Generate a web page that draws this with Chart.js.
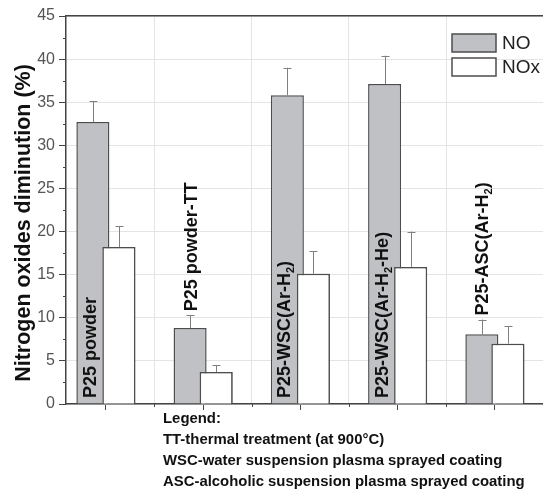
<!DOCTYPE html>
<html>
<head>
<meta charset="utf-8">
<script src="https://cdn.jsdelivr.net/npm/chart.js@4"></script>
<style>
  html, body { margin: 0; padding: 0; background: #fff; }
  #wrap { width: 543px; height: 493px; }
</style>
</head>
<body>
<div id="wrap"><canvas id="noxChart" width="543" height="493"></canvas></div>
<script>
const categories = ["P25 powder", "P25 powder-TT", "P25-WSC(Ar-H₂)", "P25-WSC(Ar-H₂-He)", "P25-ASC(Ar-H₂)"];
const seriesNames = ["NO", "NOx"];
const noValues = [32.7, 8.8, 35.8, 37.1, 8.1];
const noErrors = [2.4, 1.5, 3.2, 3.3, 1.7];
const noxValues = [18.2, 3.7, 15.1, 15.9, 7.0];
const noxErrors = [2.4, 0.8, 2.6, 4.1, 2.0];
const yTickValues = [0, 5, 10, 15, 20, 25, 30, 35, 40, 45];
const yTitle = "Nitrogen oxides diminution (%)";
const legendNotes = [
  "Legend:",
  "TT-thermal treatment (at 900°C)",
  "WSC-water suspension plasma sprayed coating",
  "ASC-alcoholic suspension plasma sprayed coating"
];

const FONT = "'Liberation Sans', Arial, Helvetica, sans-serif";
const AXIS = "#444";
const GRID = "#e4e4e4";
const GRAY_FILL = "#c0c1c4";
const BAR_EDGE = "#4d4d4d";

Chart.defaults.font.family = FONT;

// draws a label that may hold a subscript 2 (₂), rotated to read upwards
function drawRotatedLabel(ctx, text, x, y) {
  ctx.save();
  ctx.translate(x, y);
  ctx.rotate(-Math.PI / 2);
  ctx.fillStyle = "#111";
  ctx.textBaseline = "alphabetic";
  ctx.textAlign = "left";
  let pos = 0;
  const parts = text.split("₂");
  parts.forEach((p, i) => {
    ctx.font = "bold 18px " + FONT;
    ctx.fillText(p, pos, 0);
    pos += ctx.measureText(p).width;
    if (i < parts.length - 1) {
      ctx.font = "bold 11px " + FONT;
      ctx.fillText("2", pos, 4);
      pos += ctx.measureText("2").width;
    }
  });
  ctx.restore();
}

const extras = {
  id: "extras",
  afterDatasetsDraw(chart) {
    const ctx = chart.ctx;
    const y = chart.scales.y;
    const errs = [noErrors, noxErrors];

    // Chart.js paints the first dataset last; the white NOx bars must sit on top
    chart.getDatasetMeta(1).controller.draw();

    // error bars (upper half only)
    ctx.save();
    ctx.strokeStyle = "#808080";
    ctx.lineWidth = 1;
    chart.data.datasets.forEach((ds, d) => {
      chart.getDatasetMeta(d).data.forEach((bar, i) => {
        const top = y.getPixelForValue(ds.data[i].y + errs[d][i]);
        const cx = Math.round(bar.x) + 0.5;
        ctx.beginPath();
        ctx.moveTo(cx, bar.y);
        ctx.lineTo(cx, top);
        ctx.moveTo(cx - 4, Math.round(top) + 0.5);
        ctx.lineTo(cx + 4, Math.round(top) + 0.5);
        ctx.stroke();
      });
    });
    ctx.restore();

    // sample names, inside the NO bar when it is tall, else above its error bar
    const noBars = chart.getDatasetMeta(0).data;
    const noxBars = chart.getDatasetMeta(1).data;
    categories.forEach((name, i) => {
      const nb = noBars[i];
      const xb = noxBars[i];
      let cx, startY;
      if (noValues[i] > 20) {
        cx = ((nb.x - nb.width / 2) + (xb.x - xb.width / 2)) / 2;
        startY = y.getPixelForValue(0) - 6;
      } else {
        cx = nb.x;
        startY = y.getPixelForValue(noValues[i] + noErrors[i]) - 4;
      }
      drawRotatedLabel(ctx, name, cx + 6.5, startY);
    });
  },
  afterDraw(chart) {
    const ctx = chart.ctx;
    const x = chart.scales.x;
    const y = chart.scales.y;
    const area = chart.chartArea;
    ctx.save();
    ctx.strokeStyle = AXIS;
    ctx.lineWidth = 1;

    // minor ticks
    for (let v = 2.5; v < 45; v += 5) {
      const py = Math.round(y.getPixelForValue(v)) + 0.5;
      ctx.beginPath();
      ctx.moveTo(area.left - 3, py);
      ctx.lineTo(area.left, py);
      ctx.stroke();
    }
    for (let v = 1.5; v <= x.max; v += 1) {
      const px = Math.round(x.getPixelForValue(v)) + 0.5;
      ctx.beginPath();
      ctx.moveTo(px, area.bottom);
      ctx.lineTo(px, area.bottom + 3);
      ctx.stroke();
    }

    // y axis title
    ctx.save();
    ctx.translate(30, 223);
    ctx.rotate(-Math.PI / 2);
    ctx.fillStyle = "#111";
    ctx.font = "bold 21.5px " + FONT;
    ctx.textAlign = "center";
    ctx.textBaseline = "alphabetic";
    ctx.fillText(yTitle, 0, 0);
    ctx.restore();

    // series legend (top right, inside plot)
    const boxX = 452, boxW = 44, boxH = 18;
    const rows = [34, 58];
    chart.data.datasets.forEach((ds, d) => {
      ctx.fillStyle = ds.backgroundColor;
      ctx.fillRect(boxX, rows[d], boxW, boxH);
      ctx.strokeStyle = BAR_EDGE;
      ctx.lineWidth = 1.5;
      ctx.strokeRect(boxX, rows[d], boxW, boxH);
      ctx.fillStyle = "#222";
      ctx.font = "19px " + FONT;
      ctx.textBaseline = "middle";
      ctx.textAlign = "left";
      ctx.fillText(seriesNames[d], boxX + boxW + 6, rows[d] + boxH / 2 + 1);
    });

    // notes below the axis
    ctx.fillStyle = "#111";
    ctx.font = "bold 14.9px " + FONT;
    ctx.textBaseline = "alphabetic";
    ctx.textAlign = "left";
    legendNotes.forEach((line, k) => {
      ctx.fillText(line, 163, 423 + k * 21);
    });
    ctx.restore();
  }
};

const ctx = document.getElementById("noxChart").getContext("2d");

const noxChart = new Chart(ctx, {
  type: "bar",
  data: {
    datasets: [
      {
        label: seriesNames[0],
        data: noValues.map((v, i) => ({ x: i + 1, y: v })),
        backgroundColor: GRAY_FILL,
        borderColor: BAR_EDGE,
        borderWidth: 1.5,
        categoryPercentage: 0.535,
        barPercentage: 1.27
      },
      {
        label: seriesNames[1],
        data: noxValues.map((v, i) => ({ x: i + 1, y: v })),
        backgroundColor: "#ffffff",
        borderColor: BAR_EDGE,
        borderWidth: 1.5,
        categoryPercentage: 0.535,
        barPercentage: 1.27
      }
    ]
  },
  options: {
    responsive: false,
    animation: false,
    layout: { padding: { top: 16, left: 0, right: 0, bottom: 0 } },
    plugins: {
      legend: { display: false },
      tooltip: { enabled: false }
    },
    scales: {
      x: {
        type: "linear",
        position: "bottom",
        offset: false,
        min: 0.59,
        max: 5.495,
        afterBuildTicks: (s) => {
          s.ticks = categories.map((_, i) => ({ value: i + 1 }));
        },
        afterFit: (s) => { s.height = 89; },
        ticks: { display: false },
        grid: {
          offset: false,
          drawOnChartArea: false,
          drawTicks: true,
          tickLength: 6,
          tickColor: AXIS
        },
        border: { display: true, color: AXIS, width: 1.5 }
      },
      x2: {
        type: "linear",
        position: "top",
        offset: false,
        min: 0.59,
        max: 5.495,
        afterBuildTicks: (s) => {
          s.ticks = categories.slice(1).map((_, i) => ({ value: i + 1.5 }));
        },
        afterFit: (s) => { s.height = 0; },
        ticks: { display: false },
        grid: { offset: false, color: GRID, lineWidth: 1, drawTicks: false },
        border: { display: true, color: AXIS, width: 1.5 }
      },
      y: {
        min: 0,
        max: 45,
        afterBuildTicks: (s) => {
          s.ticks = yTickValues.map((v) => ({ value: v }));
        },
        afterFit: (s) => { s.width = 66; },
        ticks: {
          color: "#555",
          font: { size: 16 },
          padding: 4
        },
        grid: {
          color: GRID,
          tickColor: AXIS,
          tickLength: 7
        },
        border: { display: true, color: AXIS, width: 1.5 },
        title: { display: false }
      }
    }
  },
  plugins: [extras]
});
</script>
</body>
</html>
